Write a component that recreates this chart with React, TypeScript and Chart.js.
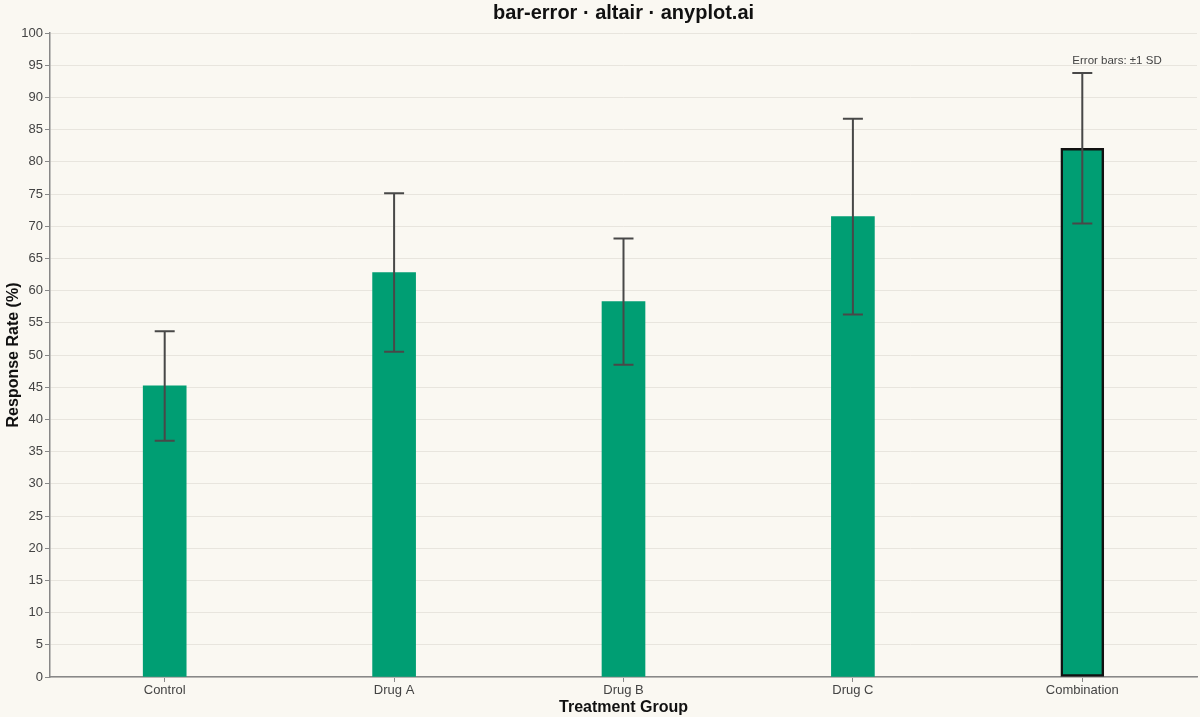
import { useEffect, useRef } from 'react';
import { Chart, registerables } from 'chart.js';

Chart.register(...registerables);

const groups = ['Control', 'Drug A', 'Drug B', 'Drug C', 'Combination'];
const meanResponse = [45.2, 62.8, 58.3, 71.5, 82.1];
const sdResponse = [8.5, 12.3, 9.8, 15.2, 11.7];
const highlightGroup = 'Combination';

const BG = '#FAF8F2';
const FONT = '"Liberation Sans", Arial, sans-serif';

// draws background, title over the plot area, error bars and the note
const extrasPlugin = {
  id: 'extras',
  beforeDraw(chart: any) {
    const { ctx, width, height } = chart;
    ctx.save();
    ctx.fillStyle = BG;
    ctx.fillRect(0, 0, width, height);
    ctx.restore();
  },
  afterDatasetsDraw(chart: any) {
    const { ctx, chartArea } = chart;
    const x = chart.scales.x;
    const y = chart.scales.y;
    ctx.save();
    ctx.strokeStyle = '#484848';
    ctx.lineWidth = 2;
    groups.forEach((g, i) => {
      const cx = x.getPixelForValue(i);
      const top = y.getPixelForValue(meanResponse[i] + sdResponse[i]);
      const bot = y.getPixelForValue(meanResponse[i] - sdResponse[i]);
      ctx.beginPath();
      ctx.moveTo(cx, top);
      ctx.lineTo(cx, bot);
      ctx.moveTo(cx - 10, top);
      ctx.lineTo(cx + 10, top);
      ctx.moveTo(cx - 10, bot);
      ctx.lineTo(cx + 10, bot);
      ctx.stroke();
    });
    const last = groups.length - 1;
    const lx = x.getPixelForValue(last);
    const ly = y.getPixelForValue(meanResponse[last] + sdResponse[last]);
    ctx.fillStyle = '#444444';
    ctx.font = `11.5px ${FONT}`;
    ctx.textAlign = 'left';
    ctx.textBaseline = 'bottom';
    ctx.fillText('Error bars: \u00b11 SD', lx - 10, ly - 6);

    ctx.fillStyle = '#111111';
    ctx.font = `bold 20px ${FONT}`;
    ctx.textAlign = 'center';
    ctx.textBaseline = 'middle';
    ctx.fillText('bar-error \u00b7 altair \u00b7 anyplot.ai', (chartArea.left + chartArea.right) / 2, 13);
    ctx.restore();
  },
};

export default function App() {
  const canvasRef = useRef<HTMLCanvasElement>(null);

  useEffect(() => {
    if (!canvasRef.current) return;
    const chart = new Chart(canvasRef.current, {
      type: 'bar',
      data: {
        labels: groups,
        datasets: [
          {
            data: meanResponse,
            backgroundColor: '#009E73',
            borderColor: groups.map(g => (g === highlightGroup ? '#111111' : 'rgba(0,0,0,0)')),
            borderWidth: groups.map(g => (g === highlightGroup ? 2.5 : 0)),
            borderSkipped: false,
            barThickness: 43,
          },
        ],
      },
      options: {
        animation: false,
        responsive: true,
        maintainAspectRatio: false,
        layout: { padding: { top: 33, right: 3, left: 0, bottom: 0 } },
        plugins: {
          legend: { display: false },
          tooltip: { enabled: false },
        },
        scales: {
          x: {
            afterFit(scale: any) {
              scale.height = 40;
            },
            grid: { display: true, drawOnChartArea: false, offset: false, tickLength: 5, color: '#888888' },
            border: { color: '#888888', width: 1.5 },
            ticks: { color: '#444444', font: { family: FONT, size: 13 }, padding: 1 },
            title: {
              display: true,
              text: 'Treatment Group',
              color: '#111111',
              font: { family: FONT, size: 16, weight: 'bold' },
              padding: { top: 0, bottom: 0 },
            },
          },
          y: {
            min: 0,
            max: 100,
            afterFit(scale: any) {
              scale.width = 50;
            },
            grid: { color: '#E8E5DE', tickLength: 5, tickColor: '#888888' },
            border: { color: '#888888', width: 1.5 },
            ticks: { stepSize: 5, color: '#444444', font: { family: FONT, size: 13 }, padding: 2 },
            title: {
              display: true,
              text: 'Response Rate (%)',
              color: '#111111',
              font: { family: FONT, size: 16, weight: 'bold' },
              padding: { top: 4, bottom: 0 },
            },
          },
        },
      },
      plugins: [extrasPlugin],
    });
    return () => chart.destroy();
  }, []);

  return (
    <div style={{ position: 'fixed', left: 0, top: 0, width: 1200, height: 717, background: BG }}>
      <canvas ref={canvasRef} />
    </div>
  );
}
